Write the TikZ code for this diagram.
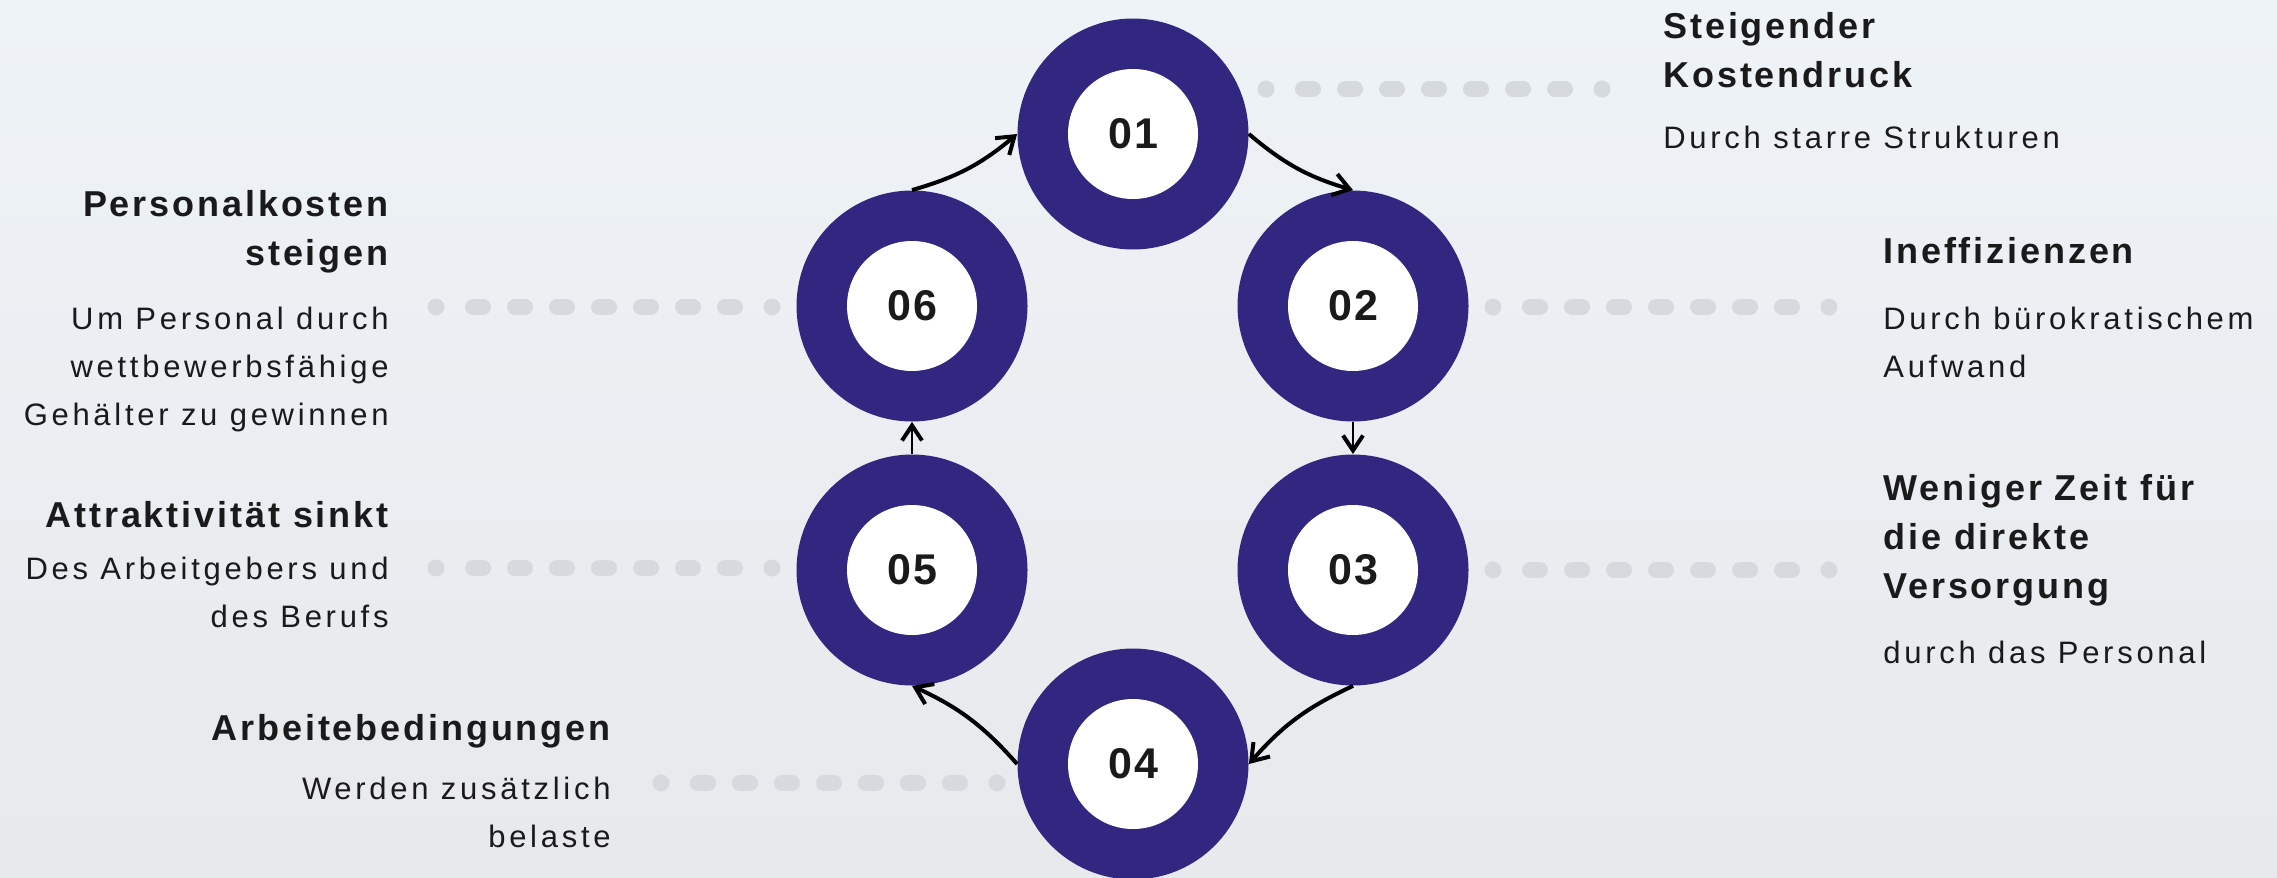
\documentclass[tikz,border=0pt]{standalone}
\usepackage{fontspec}
\setmainfont{Liberation Sans}
\newfontfamily\headfont[LetterSpace=8]{Liberation Sans}
\newfontfamily\bodyfont[LetterSpace=12]{Liberation Sans}
\newfontfamily\numfont[LetterSpace=5]{Liberation Sans}
\usetikzlibrary{arrows.meta}

\definecolor{cyclepurple}{RGB}{49,39,128}
\definecolor{textdark}{RGB}{26,26,26}
\definecolor{dotgray}{RGB}{214,218,222}
\definecolor{bgtop}{RGB}{238,243,247}
\definecolor{bgbottom}{RGB}{231,233,236}

\tikzset{
  stepcircle/.style={circle, fill=cyclepurple, minimum size=115.5pt, inner sep=0pt},
  stepnum/.style={circle, fill=white, minimum size=65pt, inner sep=0pt, text=textdark,
    font=\numfont\bfseries\fontsize{21.5}{24}\selectfont},
  headtext/.style={inner sep=0pt, text=textdark, font=\headfont\bfseries\fontsize{18}{24.5}\selectfont},
  bodytext/.style={inner sep=0pt, text=textdark, font=\bodyfont\fontsize{15.5}{24}\selectfont},
  flowarrow/.style={line width=2pt, -{Straight Barb[length=8pt,width=11pt,line width=2pt]}},
  flowstep/.style={line width=1pt, -{Straight Barb[length=7.5pt,width=10pt,line width=2pt]}},
  dotpill/.style={dotgray, line width=8pt, line cap=round}
}

% row of grey dots: first dot centre x, y
\newcommand{\dotrow}[2]{%
  \fill[dotgray] (#1,#2) circle (8.5);
  \foreach \k in {1,...,7}
    \draw[dotpill] ({#1+42*\k-5},#2) -- ({#1+42*\k+5},#2);
  \fill[dotgray] ({#1+336},#2) circle (8.5);
}

\begin{document}
\begin{tikzpicture}[x=0.5pt,y=0.5pt,yscale=-1,xscale=1]
\shade[top color=bgtop, bottom color=bgbottom] (0,0) rectangle (2277,878);
\useasboundingbox (0,0) rectangle (2277,878);

%dotted leaders
\dotrow{1266}{89}
\dotrow{1493}{307}
\dotrow{1493}{570}
\dotrow{661}{783}
\dotrow{436}{568}
\dotrow{436}{307}

%cycle steps
\node[stepcircle] (n1) at (1133,134) {};
\node[stepcircle] (n2) at (1353,306) {};
\node[stepcircle] (n3) at (1353,570) {};
\node[stepcircle] (n4) at (1133,764) {};
\node[stepcircle] (n5) at (912,570) {};
\node[stepcircle] (n6) at (912,306) {};
\node[stepnum] (t1) at (n1) {01};
\node[stepnum] (t2) at (n2) {02};
\node[stepnum] (t3) at (n3) {03};
\node[stepnum] (t4) at (n4) {04};
\node[stepnum] (t5) at (n5) {05};
\node[stepnum] (t6) at (n6) {06};

%arrows
\draw[flowarrow] (n6.north) to[bend left=12] (n1.west);
\draw[flowarrow] (n1.east) to[bend left=12] (n2.north);
\draw[flowstep] (n2.south) -- (n3.north);
\draw[flowarrow] (n3.south) to[bend left=12] (n4.east);
\draw[flowarrow] (n4.west) to[bend left=12] (n5.south);
\draw[flowstep] (n5.north) -- (n6.south);

%texts right side (base = last line)
\node[headtext, anchor=base west, align=left] (h1) at (1663,87) {Steigender\\Kostendruck};
\node[bodytext, anchor=base west, align=left] (b1) at (1663,148) {Durch starre Strukturen};
\node[headtext, anchor=base west, align=left] (h2) at (1883,263) {Ineffizienzen};
\node[bodytext, anchor=base west, align=left] (b2) at (1883,377) {Durch bürokratischem\\Aufwand};
\node[headtext, anchor=base west, align=left] (h3) at (1883,598) {Weniger Zeit für\\die direkte\\Versorgung};
\node[bodytext, anchor=base west, align=left] (b3) at (1883,663) {durch das Personal};

%texts left side
\node[headtext, anchor=base east, align=right] (h6) at (389,265) {Personalkosten\\steigen};
\node[bodytext, anchor=base east, align=right] (b6) at (389,425) {Um Personal durch\\wettbewerbsfähige\\Gehälter zu gewinnen};
\node[headtext, anchor=base east, align=right] (h5) at (389,527) {Attraktivität sinkt};
\node[bodytext, anchor=base east, align=right] (b5) at (389,627) {Des Arbeitgebers und\\des Berufs};
\node[headtext, anchor=base east, align=right] (h4) at (611,740) {Arbeitebedingungen};
\node[bodytext, anchor=base east, align=right] (b4) at (611,847) {Werden zusätzlich\\belaste};

\end{tikzpicture}
\end{document}
